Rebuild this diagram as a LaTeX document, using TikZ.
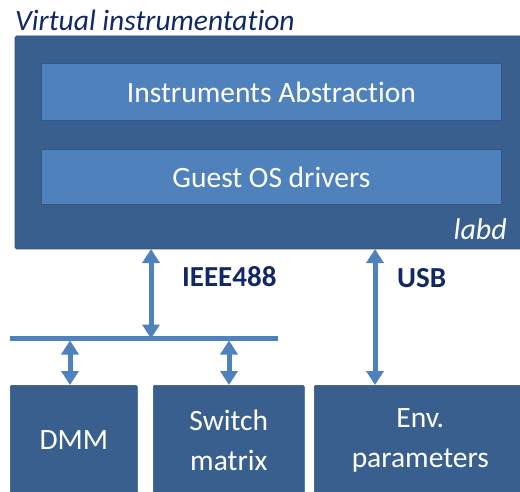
\documentclass[tikz,border=0pt]{standalone}
\usepackage{fontspec}
\setmainfont{Carlito}[Ligatures={NoCommon}]
\usetikzlibrary{arrows.meta,calc}
\definecolor{darkbox}{RGB}{57,95,143}
\definecolor{lightbox}{RGB}{79,129,189}
\definecolor{navy}{RGB}{16,40,100}
\tikzset{
  outerbox/.style={fill=darkbox, draw=darkbox!85!black, line width=0.6pt, rounded corners=1.5pt},
  innerbox/.style={fill=lightbox, draw=darkbox!90!black, line width=0.8pt},
  boxtext/.style={text=white, font=\fontsize{29.5}{40}\selectfont, align=center},
  link/.style={draw=lightbox, line width=5pt, {Triangle[length=14pt,width=17pt]}-{Triangle[length=14pt,width=17pt]}, shorten <=0pt, shorten >=0pt},
  buslabel/.style={text=navy, font=\bfseries\fontsize{29}{32}\selectfont, anchor=west},
}
\begin{document}
\begin{tikzpicture}[x=1pt,y=-1pt]
\useasboundingbox (0,0) rectangle (520,492);
% title
\node[anchor=west, inner sep=0pt, text=navy, font=\itshape\fontsize{29.5}{32}\selectfont] (title) at (15,20) {Virtual instrumentation};
% outer box
\path[outerbox] (15,36) rectangle (523,249);
\coordinate (outerS1) at (151,249);
\coordinate (outerS2) at (375,249);
\node[innerbox, minimum width=460pt, minimum height=57pt, anchor=north west] (abs) at (41,63) {};
\node[boxtext] at (abs.center) {Instruments Abstraction};
\node[innerbox, minimum width=460pt, minimum height=55pt, anchor=north west] (drv) at (41,149) {};
\node[boxtext] at (drv.center) {Guest OS drivers};
\node[anchor=east, inner sep=0pt, text=white, font=\itshape\fontsize{30}{32}\selectfont] (labd) at (507,229) {labd};
% bottom boxes
\node[outerbox, minimum width=127pt, minimum height=112pt, anchor=north west] (dmm) at (10,385) {};
\node[boxtext] at ($(dmm.center)+(0,-1)$) {DMM};
\node[outerbox, minimum width=151pt, minimum height=112pt, anchor=north west] (sw) at (153,385) {};
\node[boxtext] at ($(sw.center)+(0,-1)$) {Switch\\matrix};
\node[outerbox, minimum width=212pt, minimum height=112pt, anchor=north west] (env) at (314,385) {};
\node[boxtext] at ($(env.center)+(0,-1)$) {Env.\\parameters};
% bus
\coordinate (busL) at (10,338);
\coordinate (busR) at (278,338);
\draw[lightbox, line width=5pt] (busL) -- (busR);
\coordinate (busA) at (151,338.5);
\coordinate (busB) at (70,340.5);
\coordinate (busC) at (229,340.5);
% links
\draw[link] (outerS1) -- (busA);
\draw[link] (outerS2) -- (375,385);
\draw[link] (busB) -- (dmm.north -| busB);
\draw[link] (busC) -- (sw.north -| busC);
% labels
\node[buslabel, inner sep=0pt] (ieee) at (182,277) {IEEE488};
\node[buslabel, inner sep=0pt] (usb) at (397,278) {USB};
\end{tikzpicture}
\end{document}
